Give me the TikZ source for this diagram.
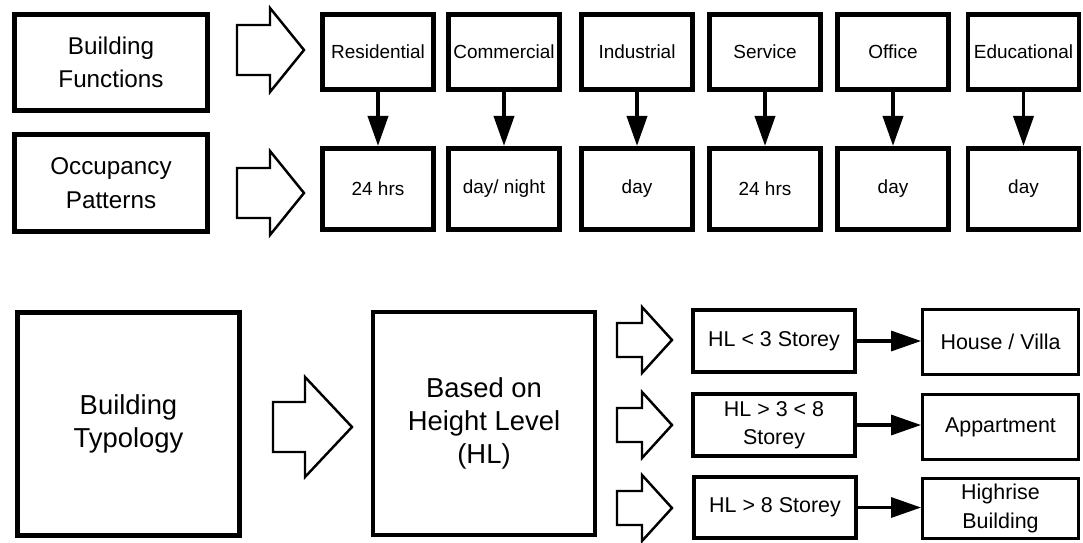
\documentclass[tikz,border=0pt]{standalone}
\usepackage{fontspec}
\setmainfont{Liberation Sans}
\usetikzlibrary{arrows.meta,positioning}
\tikzset{
headbox/.style={
  draw=black,
  line width=2.8pt,
  inner sep=0pt,
  align=center,
  minimum width=3.86cm,
  minimum height=1.93cm,
  font=\fontsize{13.8}{19}\selectfont,
  }
}
\tikzset{
funcbox/.style={
  draw=black,
  line width=2.8pt,
  inner sep=0pt,
  align=center,
  minimum width=2.22cm,
  minimum height=1.5cm,
  font=\fontsize{10.8}{13}\selectfont,
  },
occbox/.style={funcbox, minimum height=1.62cm},
bigbox/.style={
  draw=black,
  line width=2.8pt,
  inner sep=0pt,
  align=center,
  minimum width=4.44cm,
  minimum height=4.46cm,
  font=\fontsize{15.6}{18.6}\selectfont,
  },
rulebox/.style={
  draw=black,
  line width=2.3pt,
  inner sep=0pt,
  align=center,
  minimum width=3.24cm,
  minimum height=1.25cm,
  font=\fontsize{12.2}{16}\selectfont,
  },
typebox/.style={rulebox, line width=1.9pt, minimum width=3.11cm, minimum height=1.31cm}
}
\tikzset{
flowline/.style={
  line width=2.2pt,
  -{Triangle[length=0.6cm, width=0.4cm]}
  },
blockline/.style={draw=black, fill=white, line width=1.4pt, line join=miter},
pics/blockarrow/.style n args={4}{code={
  \draw[blockline] (0,-#3) -- (#1,-#3) -- (#1,-#4) -- (#1+#2,0)
    -- (#1,#4) -- (#1,#3) -- (0,#3) -- cycle;
  }}
}

\begin{document}
\begin{tikzpicture}[x=0.02cm, y=-0.02cm]
  \useasboundingbox (0,0) rectangle (1083,542);

  % functions and occupancy
  \node[headbox] (funcs) at (111,62.5) {Building\\Functions};
  \node[headbox, minimum height=1.94cm] (occ) at (111,183) {Occupancy\\Patterns};
  \pic at (237,50) {blockarrow={33}{34}{25}{42}};
  \pic at (237,193) {blockarrow={33}{34}{25}{42}};

  \node[funcbox] (res) at (378,52) {Residential};
  \node[funcbox] (com) at (504,52) {Commercial};
  \node[funcbox] (ind) at (637,52) {Industrial};
  \node[funcbox] (ser) at (765,52) {Service};
  \node[funcbox] (off) at (893,52) {Office};
  \node[funcbox] (edu) at (1023.5,52) {Educational};

  \node[occbox, below=1.08cm of res] (res_t) {24 hrs};
  \node[occbox, below=1.08cm of com] (com_t) {day/ night};
  \node[occbox, below=1.08cm of ind] (ind_t) {day};
  \node[occbox, below=1.08cm of ser] (ser_t) {24 hrs};
  \node[occbox, below=1.08cm of off] (off_t) {day};
  \node[occbox, below=1.08cm of edu] (edu_t) {day};

  % function edges
  \foreach \f in {res,com,ind,ser,off,edu}
    \draw[flowline] (\f.south) -- (\f_t.north);

  % typology part
  \node[bigbox] (typo) at (128.5,424) {Building\\Typology};
  \pic at (273,427) {blockarrow={32}{47}{25}{50}};
  \node[bigbox] (hl) at (484,423.5) {Based on\\Height Level\\(HL)};

  \pic at (617,340) {blockarrow={25}{30}{17}{33}};
  \pic at (617,425) {blockarrow={25}{30}{17}{33}};
  \pic at (617,508) {blockarrow={25}{30}{17}{33}};

  \node[rulebox] (hl_low) at (774,341) {HL < 3 Storey};
  \node[rulebox] (hl_mid) at (774,425) {HL > 3 < 8\\Storey};
  \node[rulebox, minimum height=1.22cm] (hl_high) at (775,507.5) {HL > 8 Storey};

  \node[typebox] (villa) at (1000.5,342) {House / Villa};
  \node[typebox] (apart) at (1000.5,427) {Appartment};
  \node[typebox, minimum height=1.2cm] (tower) at (1000.5,508.5) {Highrise\\Building};

  % typology edges
  \draw[flowline, line width=1.8pt] (hl_low.east) -- (hl_low.east -| villa.west);
  \draw[flowline, line width=1.8pt] (hl_mid.east) -- (hl_mid.east -| apart.west);
  \draw[flowline, line width=1.8pt] (hl_high.east) -- (hl_high.east -| tower.west);
\end{tikzpicture}
\end{document}
